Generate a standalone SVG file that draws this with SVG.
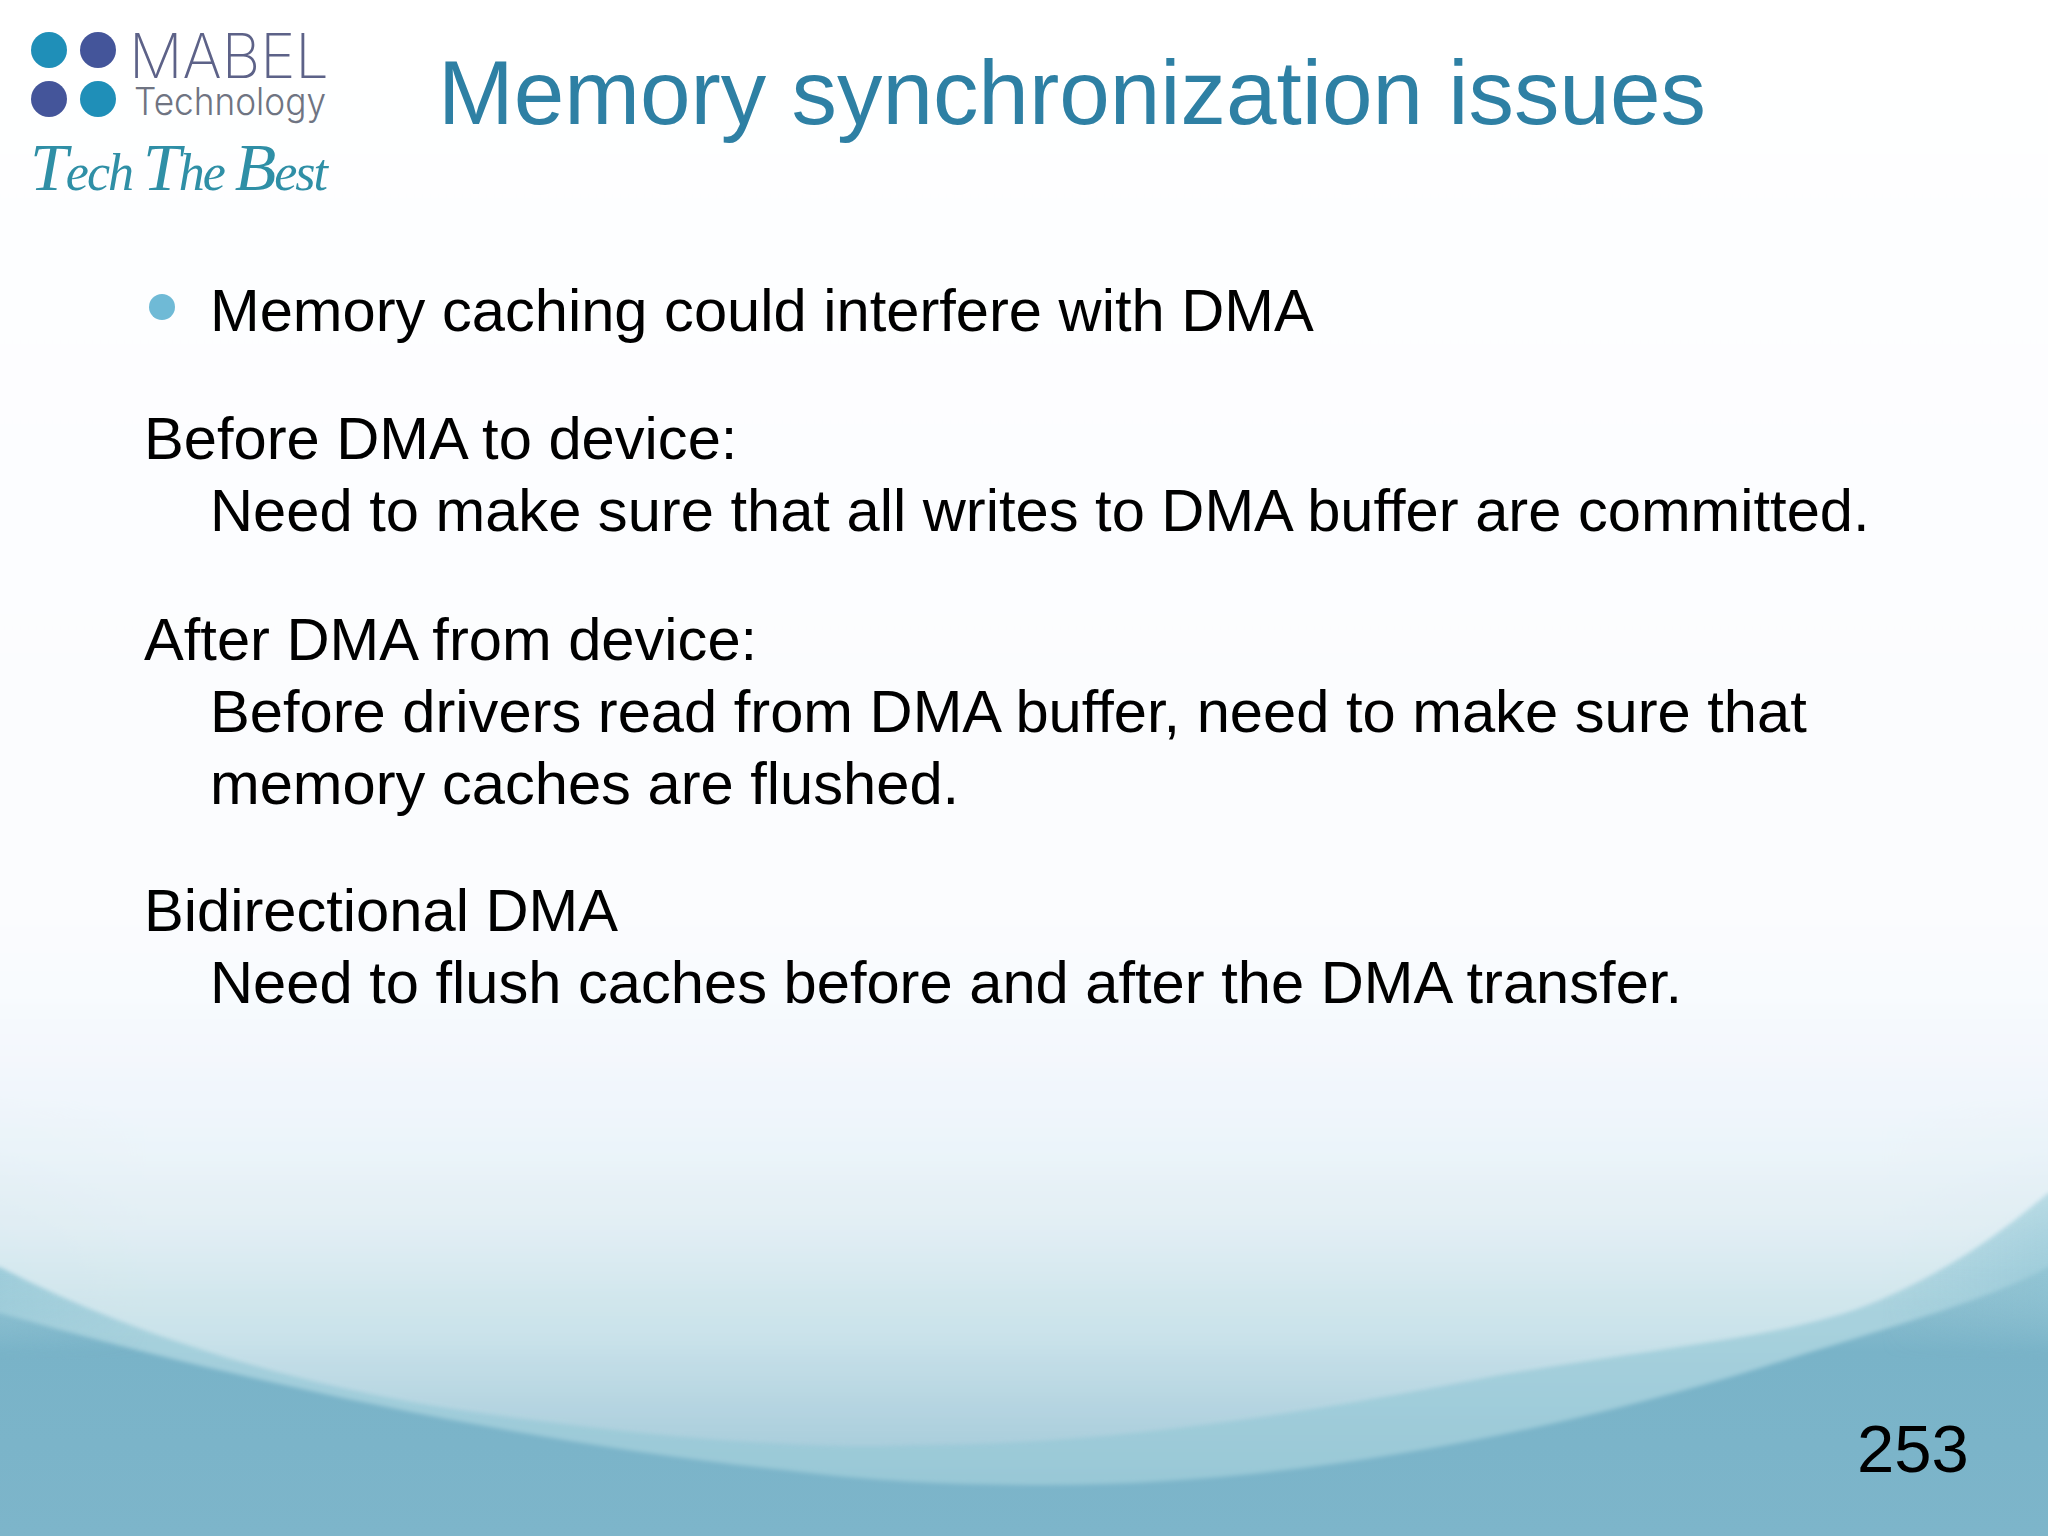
<svg xmlns="http://www.w3.org/2000/svg" width="2048" height="1536" viewBox="0 0 2048 1536">
<defs>
<linearGradient id="side" gradientUnits="userSpaceOnUse" x1="0" y1="0" x2="0" y2="1536"><stop offset="0" stop-color="#ffffff"/><stop offset="0.6" stop-color="#fdfeff"/><stop offset="0.68" stop-color="#f0f7fa"/><stop offset="0.74" stop-color="#cfe5ec"/><stop offset="0.82" stop-color="#9cc8d6"/><stop offset="0.88" stop-color="#79b3c8"/><stop offset="1" stop-color="#7db5ca"/></linearGradient>
<linearGradient id="outer" gradientUnits="userSpaceOnUse" x1="0" y1="0" x2="0" y2="1536"><stop offset="0" stop-color="#ffffff"/><stop offset="0.65" stop-color="#f8fbfe"/><stop offset="0.75" stop-color="#dceef3"/><stop offset="0.85" stop-color="#a9d2de"/><stop offset="1" stop-color="#94c5d4"/></linearGradient>
<linearGradient id="inner" gradientUnits="userSpaceOnUse" x1="0" y1="0" x2="0" y2="1536"><stop offset="0" stop-color="#ffffff"/><stop offset="0.6" stop-color="#fcfdff"/><stop offset="0.72" stop-color="#f2f7fd"/><stop offset="0.8" stop-color="#e6f1f6"/><stop offset="0.87" stop-color="#cfe5ec"/><stop offset="0.94" stop-color="#adcfdd"/></linearGradient>
<linearGradient id="gl" gradientUnits="userSpaceOnUse" x1="0" y1="0" x2="150" y2="0"><stop offset="0" stop-color="#8cc3d3" stop-opacity="0.55"/><stop offset="1" stop-color="#8cc3d3" stop-opacity="0"/></linearGradient>
<linearGradient id="gr" gradientUnits="userSpaceOnUse" x1="2048" y1="0" x2="1880" y2="0"><stop offset="0" stop-color="#8cc3d3" stop-opacity="0.55"/><stop offset="1" stop-color="#8cc3d3" stop-opacity="0"/></linearGradient>
<linearGradient id="fade" x1="0" y1="0" x2="0" y2="1"><stop offset="0" stop-color="#fff" stop-opacity="0"/><stop offset="0.7" stop-color="#fff"/><stop offset="1" stop-color="#fff" stop-opacity="0"/></linearGradient>
<mask id="m" maskUnits="userSpaceOnUse" x="0" y="1080" width="2048" height="280"><rect x="0" y="1080" width="2048" height="280" fill="url(#fade)"/></mask>
<filter id="soft" x="-5%" y="-5%" width="110%" height="110%"><feGaussianBlur stdDeviation="2"/></filter>
</defs>
<style>
.b{font-family:"Liberation Sans",Arial,sans-serif;font-size:59.65px;fill:#000}
.d{fill:#1f8fb8}.e{fill:#44559a}
.c{font-size:68px}
</style>
<rect width="2048" height="1536" fill="url(#side)"/>
<path d="M-10 -10H2058V1267H2048C1990 1300 1880 1330 1763 1367C1560 1430 1300 1485 1045 1485C960 1485 880 1482 784 1470C500 1440 200 1370 0 1313H-10Z" fill="url(#outer)" filter="url(#soft)"/>
<g mask="url(#m)"><rect x="0" y="1080" width="150" height="280" fill="url(#gl)"/><rect x="1880" y="1080" width="168" height="280" fill="url(#gr)"/></g>
<path d="M-10 -10H2058V1193H2048C2010 1225 1960 1265 1880 1300C1800 1335 1680 1345 1500 1375C1300 1415 1100 1445 914 1445C800 1450 640 1436 460 1410C290 1385 120 1330 0 1267H-10Z" fill="url(#inner)" filter="url(#soft)" opacity="0.88"/>
<g id="logo">
<circle class="d" cx="49" cy="50" r="18"/><circle class="e" cx="98" cy="50" r="18"/><circle class="e" cx="49" cy="99" r="18"/><circle class="d" cx="98" cy="99" r="18"/>
<text x="129" y="78" font-family="Inter,'Liberation Sans',sans-serif" font-weight="200" font-size="61" fill="#5d6288" textLength="200" lengthAdjust="spacingAndGlyphs">MABEL</text>
<text x="134" y="115" font-family="Inter,'Liberation Sans',sans-serif" font-weight="300" font-size="38" fill="#6f7482" textLength="192" lengthAdjust="spacingAndGlyphs">Technology</text>
<text x="30" y="190" font-family="'Liberation Serif',serif" font-style="italic" font-size="52" fill="#2f8fa6" textLength="298" lengthAdjust="spacing"><tspan class="c">T</tspan>ech <tspan class="c">T</tspan>he <tspan class="c">B</tspan>est</text>
</g>
<g id="title"><text x="438" y="124" font-family="'Liberation Sans',Arial,sans-serif" font-size="90.9" fill="#2e80a4">Memory synchronization issues</text></g>
<g id="body">
<circle cx="162" cy="307" r="13" fill="#6fbad6"/>
<text class="b" x="210" y="331">Memory caching could interfere with DMA</text>
<text class="b" x="144" y="459">Before DMA to device:</text>
<text class="b" x="210" y="531">Need to make sure that all writes to DMA buffer are committed.</text>
<text class="b" x="144" y="660">After DMA from device:</text>
<text class="b" x="210" y="732">Before drivers read from DMA buffer, need to make sure that</text>
<text class="b" x="210" y="804">memory caches are flushed.</text>
<text class="b" x="144" y="931">Bidirectional DMA</text>
<text class="b" x="210" y="1003">Need to flush caches before and after the DMA transfer.</text>
</g>
<g id="page"><text x="1857" y="1472" font-family="'Liberation Sans',Arial,sans-serif" font-size="67" fill="#000">253</text></g>
</svg>
